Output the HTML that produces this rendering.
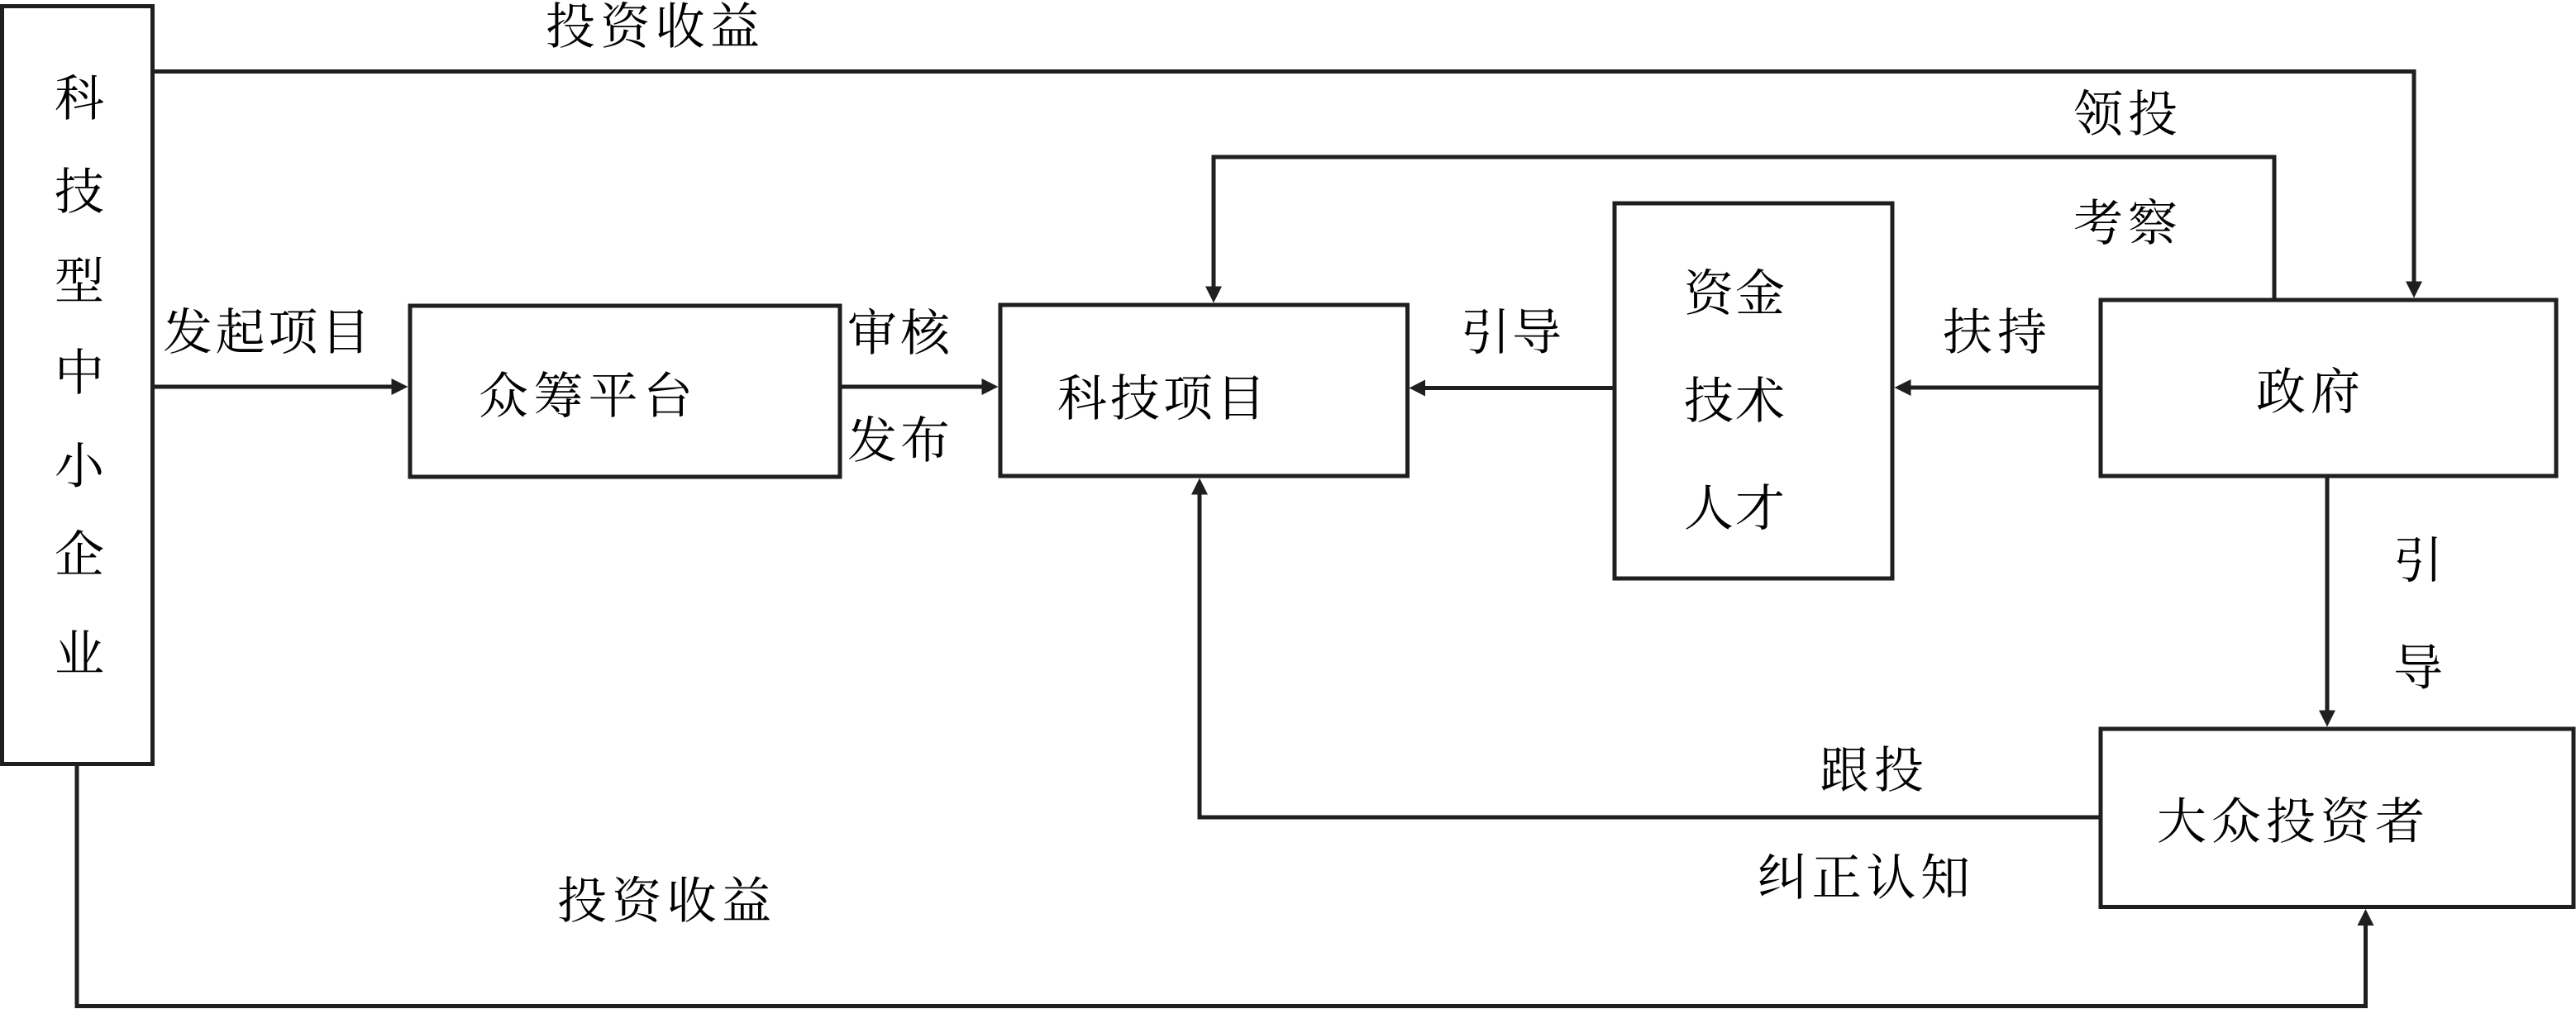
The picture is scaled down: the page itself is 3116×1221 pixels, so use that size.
<!DOCTYPE html>
<html>
<head>
<meta charset="utf-8">
<style>
  html, body { margin: 0; padding: 0; background: #ffffff; }
  body { width: 3116px; height: 1221px; overflow: hidden; }
  svg { display: block; }
  text { font-family: "Liberation Serif", "Noto Serif CJK SC", "Noto Sans CJK SC", serif; font-size: 60px; fill: #000; }
</style>
</head>
<body>
<svg width="3116" height="1221" viewBox="0 0 3116 1221" xmlns="http://www.w3.org/2000/svg">
  <g fill="none" stroke="#1f1f1f" stroke-width="5">
    <!-- boxes -->
    <rect x="2.5" y="7.5" width="182" height="917"/>
    <rect x="496" y="370" width="520" height="207"/>
    <rect x="1210" y="369" width="492.5" height="207"/>
    <rect x="1953" y="246" width="336" height="454"/>
    <rect x="2541" y="363" width="551" height="213"/>
    <rect x="2541" y="882" width="572" height="215.5"/>
    <!-- connectors -->
    <polyline points="187,86.5 2920,86.5 2920,342"/>
    <polyline points="2751,360.5 2751,190 1468,190 1468,348"/>
    <polyline points="187,468 476,468"/>
    <polyline points="1018.5,468 1189,468"/>
    <polyline points="1950.5,469.5 1724,469.5"/>
    <polyline points="2538.5,469 2311,469"/>
    <polyline points="2815,578.5 2815,861"/>
    <polyline points="2538.5,989 1451,989 1451,597"/>
    <polyline points="93,927 93,1217.5 2861.5,1217.5 2861.5,1119"/>
  </g>
  <g fill="#1f1f1f" stroke="none">
    <!-- arrowheads -->
    <polygon points="2920,360.5 2910,340.5 2930,340.5"/>
    <polygon points="1468,366.5 1458,346.5 1478,346.5"/>
    <polygon points="493.5,468 473.5,458 473.5,478"/>
    <polygon points="1207.5,468 1187.5,458 1187.5,478"/>
    <polygon points="1704.5,469.5 1724,459.5 1724,479.5"/>
    <polygon points="2291.5,469 2311.5,459 2311.5,479"/>
    <polygon points="2815,879.5 2805,859.5 2825,859.5"/>
    <polygon points="1451,578.5 1441,598.5 1461,598.5"/>
    <polygon points="2861.5,1100 2851.5,1120 2871.5,1120"/>
  </g>

  <!-- left column vertical text -->
  <g text-anchor="middle">
    <text x="96" y="140">科</text>
    <text x="96" y="253">技</text>
    <text x="96" y="361">型</text>
    <text x="96" y="472">中</text>
    <text x="96" y="585">小</text>
    <text x="96" y="692">企</text>
    <text x="96" y="812">业</text>
    <text x="2925" y="699">引</text>
    <text x="2925" y="829">导</text>
  </g>

  <!-- labels -->
  <text x="660" y="53" textLength="259" lengthAdjust="spacing">投资收益</text>
  <text x="2508" y="159" textLength="126" lengthAdjust="spacing">领投</text>
  <text x="2508" y="291" textLength="126" lengthAdjust="spacing">考察</text>
  <text x="197" y="423" textLength="251" lengthAdjust="spacing">发起项目</text>
  <text x="579" y="500" textLength="259" lengthAdjust="spacing">众筹平台</text>
  <text x="1025" y="424" textLength="124" lengthAdjust="spacing">审核</text>
  <text x="1025" y="554" textLength="124" lengthAdjust="spacing">发布</text>
  <text x="1279" y="503" textLength="252" lengthAdjust="spacing">科技项目</text>
  <text x="1767" y="423" textLength="122" lengthAdjust="spacing">引导</text>
  <text x="2037" y="376" textLength="122" lengthAdjust="spacing">资金</text>
  <text x="2037" y="506" textLength="122" lengthAdjust="spacing">技术</text>
  <text x="2037" y="636" textLength="122" lengthAdjust="spacing">人才</text>
  <text x="2350" y="423" textLength="126" lengthAdjust="spacing">扶持</text>
  <text x="2729" y="495" textLength="126" lengthAdjust="spacing">政府</text>
  <text x="2201" y="953" textLength="126" lengthAdjust="spacing">跟投</text>
  <text x="2609" y="1015" textLength="324" lengthAdjust="spacing">大众投资者</text>
  <text x="2126" y="1083" textLength="257" lengthAdjust="spacing">纠正认知</text>
  <text x="674" y="1111" textLength="259" lengthAdjust="spacing">投资收益</text>
</svg>
</body>
</html>
